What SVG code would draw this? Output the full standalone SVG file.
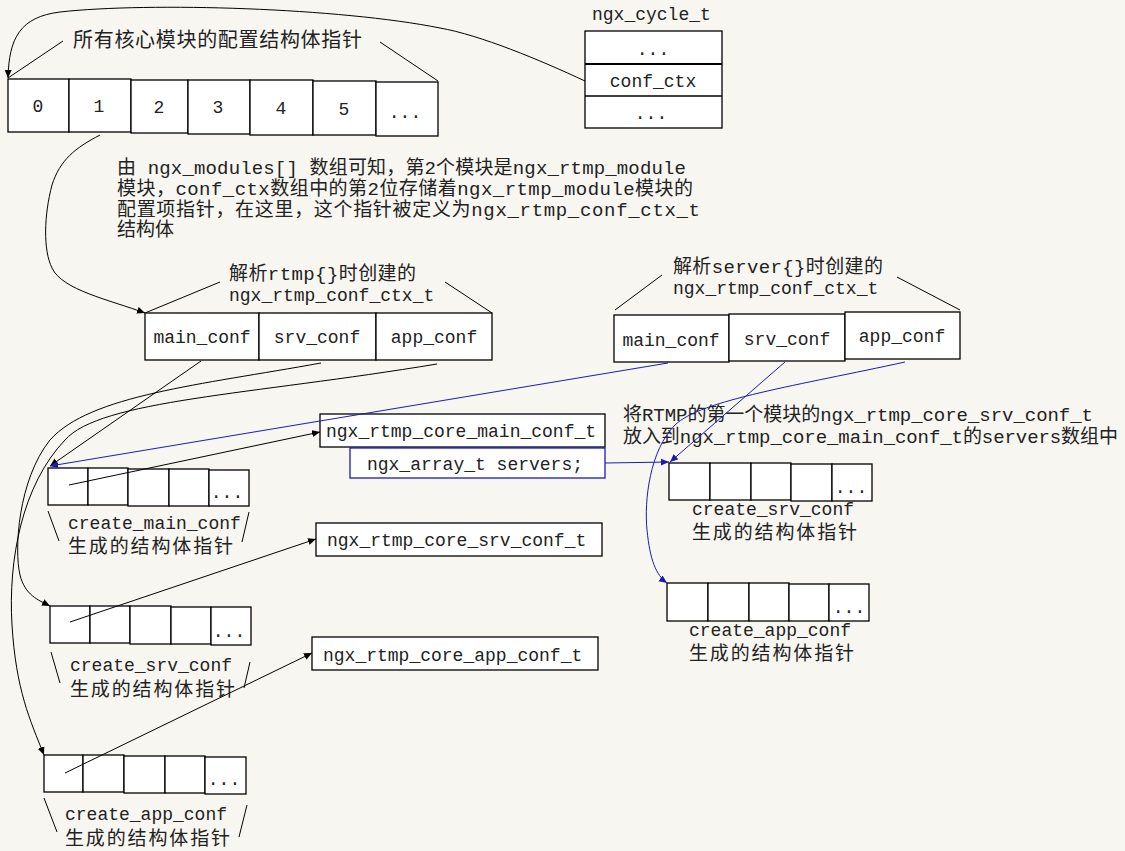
<svg xmlns="http://www.w3.org/2000/svg" width="1125" height="851" viewBox="0 0 1125 851">
<defs>
<style>
.bg{fill:#f8f6f0}
.box{fill:#fff;stroke:#000;stroke-width:1.3}
.bbox{fill:#fff;stroke:#1a1ab8;stroke-width:1.3}
.m{font-family:"Liberation Mono","Noto Sans CJK SC",monospace;font-size:18px;fill:#222}
.c{font-family:"Noto Sans CJK SC",sans-serif;font-size:20px;fill:#222}
.c2{font-family:"Noto Sans CJK SC",sans-serif;font-size:19px;fill:#222}
.x{font-family:"Liberation Mono","Noto Sans CJK SC",monospace;font-size:19px;fill:#222}
.ln{fill:none;stroke:#000;stroke-width:1}
.bl{fill:none;stroke:#1a1ab8;stroke-width:1}
.ar{marker-end:url(#ah)}
.bar{marker-end:url(#bh)}
</style>
<marker id="ah" markerUnits="userSpaceOnUse" markerWidth="9" markerHeight="8" refX="8" refY="4" orient="auto"><path d="M0,0.5 L8,4 L0,7.5 Z" fill="#000"/></marker>
<marker id="bh" markerUnits="userSpaceOnUse" markerWidth="9" markerHeight="8" refX="8" refY="4" orient="auto"><path d="M0,0.5 L8,4 L0,7.5 Z" fill="#1a1ab8"/></marker>
</defs>
<rect class="bg" x="0" y="0" width="1125" height="851"/>

<g id="top-array">
<text class="c" x="73" y="47" textLength="289">所有核心模块的配置结构体指针</text>
<line class="ln" x1="63" y1="41" x2="8" y2="78"/>
<line class="ln" x1="380" y1="42" x2="438" y2="81"/>
<rect class="box" x="8" y="79" width="61" height="53"/>
<rect class="box" x="69" y="79" width="62" height="53"/>
<rect class="box" x="131" y="80" width="57" height="53"/>
<rect class="box" x="188" y="80" width="62" height="54"/>
<rect class="box" x="250" y="80" width="63" height="55"/>
<rect class="box" x="313" y="81" width="63" height="54"/>
<rect class="box" x="376" y="82" width="62" height="54"/>
<text class="m" x="38" y="112" text-anchor="middle">0</text>
<text class="m" x="99" y="112" text-anchor="middle">1</text>
<text class="m" x="159" y="113" text-anchor="middle">2</text>
<text class="m" x="218" y="113" text-anchor="middle">3</text>
<text class="m" x="281" y="114" text-anchor="middle">4</text>
<text class="m" x="344" y="115" text-anchor="middle">5</text>
<text class="m" x="405" y="118" text-anchor="middle">...</text>
</g>

<g id="ngx-cycle-t">
<text class="m" x="592" y="20">ngx_cycle_t</text>
<rect class="box" x="585" y="31" width="137" height="97"/>
<line x1="585" y1="64" x2="722" y2="64" stroke="#000" stroke-width="2.2"/>
<line x1="585" y1="96" x2="722" y2="96" stroke="#000" stroke-width="1.3"/>
<text class="m" x="653" y="55" text-anchor="middle">...</text>
<text class="m" x="653" y="87" text-anchor="middle">conf_ctx</text>
<text class="m" x="651" y="119" text-anchor="middle">...</text>
</g>

<g id="note">
<text class="x" x="117" y="174" textLength="569">由 ngx_modules[] 数组可知，第2个模块是ngx_rtmp_module</text>
<text class="x" x="117" y="195" textLength="576">模块，conf_ctx数组中的第2位存储着ngx_rtmp_module模块的</text>
<text class="x" x="117" y="216" textLength="583">配置项指针，在这里，这个指针被定义为ngx_rtmp_conf_ctx_t</text>
<text class="x" x="117" y="236">结构体</text>
</g>

<g id="rtmp-ctx">
<text class="x" x="229" y="280" textLength="187">解析rtmp{}时创建的</text>
<text class="m" x="229" y="301">ngx_rtmp_conf_ctx_t</text>
<line class="ln" x1="220" y1="282" x2="145" y2="313"/>
<line class="ln" x1="445" y1="282" x2="492" y2="313"/>
<rect class="box" x="145" y="313" width="114" height="47"/>
<rect class="box" x="259" y="313" width="117" height="47"/>
<rect class="box" x="376" y="313" width="116" height="47"/>
<text class="m" x="202" y="343" text-anchor="middle">main_conf</text>
<text class="m" x="317" y="343" text-anchor="middle">srv_conf</text>
<text class="m" x="434" y="343" text-anchor="middle">app_conf</text>
</g>

<g id="server-ctx">
<text class="x" x="673" y="273" textLength="210">解析server{}时创建的</text>
<text class="m" x="673" y="294">ngx_rtmp_conf_ctx_t</text>
<line class="ln" x1="662" y1="275" x2="615" y2="310"/>
<line class="ln" x1="897" y1="277" x2="960" y2="310"/>
<rect class="box" x="614" y="315" width="115" height="47"/>
<rect class="box" x="729" y="314" width="116" height="47"/>
<rect class="box" x="845" y="312" width="115" height="47"/>
<text class="m" x="671" y="346" text-anchor="middle">main_conf</text>
<text class="m" x="787" y="345" text-anchor="middle">srv_conf</text>
<text class="m" x="902" y="342" text-anchor="middle">app_conf</text>
</g>

<g id="core-main-conf">
<rect class="box" x="320" y="414" width="285" height="33"/>
<text class="m" x="326" y="437">ngx_rtmp_core_main_conf_t</text>
<rect class="bbox" x="350" y="448" width="255" height="30"/>
<text class="m" x="475" y="470" text-anchor="middle">ngx_array_t servers;</text>
</g>

<g id="core-srv-conf">
<rect class="box" x="316" y="523" width="286" height="33"/>
<text class="m" x="327" y="546">ngx_rtmp_core_srv_conf_t</text>
</g>

<g id="core-app-conf">
<rect class="box" x="312" y="637" width="286" height="33"/>
<text class="m" x="323" y="661">ngx_rtmp_core_app_conf_t</text>
</g>

<g id="main-array">
<rect class="box" x="48" y="468" width="40" height="37"/>
<rect class="box" x="88" y="468" width="40" height="37"/>
<rect class="box" x="128" y="469" width="41" height="37"/>
<rect class="box" x="169" y="469" width="40" height="37"/>
<rect class="box" x="209" y="470" width="40" height="36"/>
<text class="m" x="227" y="498" text-anchor="middle">...</text>
<line class="ln" x1="48" y1="511" x2="59" y2="541"/>
<line class="ln" x1="249" y1="512" x2="242" y2="542"/>
<text class="m" x="68" y="529">create_main_conf</text>
<text class="c2" x="68" y="553" textLength="165">生成的结构体指针</text>
</g>

<g id="srv-array">
<rect class="box" x="50" y="606" width="40" height="37"/>
<rect class="box" x="90" y="606" width="40" height="37"/>
<rect class="box" x="130" y="606" width="41" height="38"/>
<rect class="box" x="171" y="607" width="40" height="37"/>
<rect class="box" x="211" y="607" width="40" height="38"/>
<text class="m" x="229" y="637" text-anchor="middle">...</text>
<line class="ln" x1="51" y1="652" x2="60" y2="683"/>
<line class="ln" x1="250" y1="662" x2="244" y2="688"/>
<text class="m" x="70" y="671">create_srv_conf</text>
<text class="c2" x="70" y="696" textLength="165">生成的结构体指针</text>
</g>

<g id="app-array">
<rect class="box" x="44" y="755" width="39" height="37"/>
<rect class="box" x="83" y="755" width="41" height="37"/>
<rect class="box" x="124" y="756" width="41" height="37"/>
<rect class="box" x="165" y="756" width="40" height="37"/>
<rect class="box" x="205" y="757" width="41" height="37"/>
<text class="m" x="224" y="785" text-anchor="middle">...</text>
<line class="ln" x1="44" y1="798" x2="57" y2="832"/>
<line class="ln" x1="247" y1="805" x2="239" y2="837"/>
<text class="m" x="65" y="820">create_app_conf</text>
<text class="c2" x="65" y="845" textLength="165">生成的结构体指针</text>
</g>

<g id="note-servers">
<text class="x" x="623" y="421" textLength="470">将RTMP的第一个模块的ngx_rtmp_core_srv_conf_t</text>
<text class="x" x="623" y="443" textLength="495">放入到ngx_rtmp_core_main_conf_t的servers数组中</text>
</g>

<g id="right-srv-array">
<rect class="box" x="669" y="463" width="41" height="37"/>
<rect class="box" x="710" y="463" width="41" height="37"/>
<rect class="box" x="751" y="463" width="40" height="37"/>
<rect class="box" x="791" y="464" width="41" height="37"/>
<rect class="box" x="832" y="464" width="40" height="37"/>
<text class="m" x="851" y="493" text-anchor="middle">...</text>
<text class="m" x="692" y="515">create_srv_conf</text>
<text class="c2" x="692" y="539" textLength="165">生成的结构体指针</text>
</g>

<g id="right-app-array">
<rect class="box" x="667" y="583" width="41" height="38"/>
<rect class="box" x="708" y="583" width="41" height="38"/>
<rect class="box" x="749" y="583" width="40" height="38"/>
<rect class="box" x="789" y="584" width="40" height="37"/>
<rect class="box" x="829" y="584" width="40" height="37"/>
<text class="m" x="849" y="613" text-anchor="middle">...</text>
<text class="m" x="689" y="636">create_app_conf</text>
<text class="c2" x="689" y="660" textLength="165">生成的结构体指针</text>
</g>

<g id="connectors">
<path class="ln ar" d="M585,81 C540,60 480,35 440,28 C340,8 150,2 60,12 C20,17 9,38 8,78"/>
<path class="ln ar" d="M100,135 C75,148 60,160 52,185 C44,215 43,250 52,268 C62,290 110,300 145,313"/>
<path class="ln ar" d="M201,361 L50,466"/>
<path class="ln ar" d="M321,363 C200,385 90,395 50,440 C18,480 14,550 20,575 C25,595 38,600 50,606"/>
<path class="ln ar" d="M437,364 C250,395 100,400 65,440 C22,485 8,560 12,625 C16,690 30,720 44,755"/>
<path class="ln ar" d="M69,485 L320,432"/>
<path class="ln ar" d="M70,622 L316,539"/>
<path class="ln ar" d="M65,773 L312,653"/>
<path class="bl bar" d="M668,363 L50,466"/>
<path class="bl bar" d="M785,362 L670,462"/>
<path class="bl bar" d="M905,362 C800,385 700,400 675,425 C650,450 644,500 647,530 C650,560 656,575 667,583"/>
<path class="bl bar" d="M605,463 L669,462"/>
</g>
</svg>
